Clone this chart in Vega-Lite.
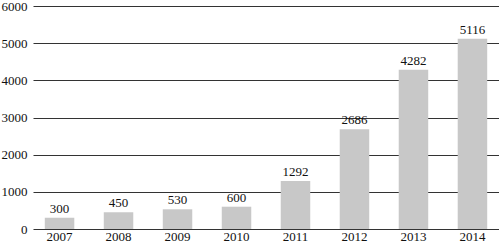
{
  "$schema": "https://vega.github.io/schema/vega-lite/v6.json",
  "autosize": {"type": "none"},
  "width": 466,
  "height": 223,
  "padding": {"left": 33, "top": 6, "right": 0, "bottom": 14},
  "background": "white",
  "config": {
    "view": {"stroke": null},
    "font": "Liberation Serif",
    "axis": {"labelFont": "Liberation Serif", "labelFontSize": 13, "labelColor": "#111"}
  },
  "data": {
    "values": [
      {"year": "2007", "value": 300},
      {"year": "2008", "value": 450},
      {"year": "2009", "value": 530},
      {"year": "2010", "value": 600},
      {"year": "2011", "value": 1292},
      {"year": "2012", "value": 2686},
      {"year": "2013", "value": 4282},
      {"year": "2014", "value": 5116}
    ]
  },
  "encoding": {
    "x": {
      "field": "year",
      "type": "nominal",
      "scale": {"paddingInner": 0.5, "paddingOuter": 0.2},
      "axis": {"title": null, "labelAngle": 0, "ticks": false, "domain": false, "labelPadding": 1}
    },
    "y": {
      "field": "value",
      "type": "quantitative",
      "scale": {"domain": [0, 6000], "nice": false},
      "axis": {
        "title": null,
        "values": [0, 1000, 2000, 3000, 4000, 5000, 6000],
        "format": "d",
        "ticks": false,
        "domain": false,
        "labelPadding": 6,
        "grid": true,
        "gridColor": "#333",
        "gridWidth": 1.2,
        "gridOpacity": 1
      }
    }
  },
  "layer": [
    {"mark": {"type": "bar", "color": "#c8c8c8"}},
    {
      "mark": {"type": "text", "baseline": "bottom", "dy": -2, "fontSize": 13, "font": "Liberation Serif", "color": "#111"},
      "encoding": {"text": {"field": "value", "type": "quantitative", "format": "d"}}
    }
  ]
}
